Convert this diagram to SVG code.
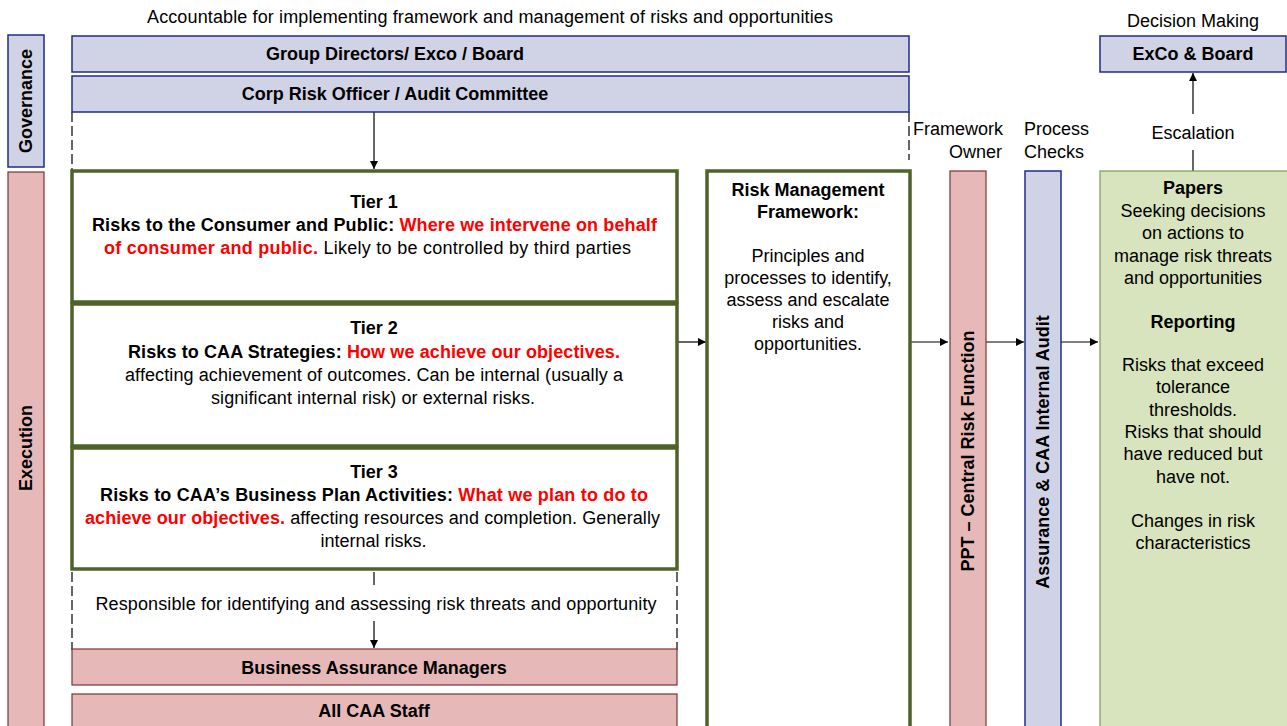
<svg xmlns="http://www.w3.org/2000/svg" width="1287" height="726" viewBox="0 0 1287 726">
<defs>
<style>
text{font-family:"Liberation Sans",Arial,sans-serif;font-size:18px;fill:#000}
.b{font-weight:bold}
.r{fill:#ff0000;font-weight:bold}
.c{text-anchor:middle}
.lav{fill:#d0d2e5;stroke:#1f2d8a;stroke-width:1.5}
.pink{fill:#e6b8b7;stroke:#7f3333;stroke-width:1.2}
.tier{fill:#fff;stroke:#4f6228;stroke-width:3.5}
.pap{fill:#d7e4bd;stroke:#7e9a52;stroke-width:1.2}
.dash{stroke:#000;stroke-width:1.2;stroke-dasharray:10,4;fill:none}
.ln{stroke:#000;stroke-width:1.2;fill:none}
</style>
<marker id="ah" viewBox="0 0 10 10" refX="10" refY="5" markerWidth="8" markerHeight="8" markerUnits="userSpaceOnUse" orient="auto">
<path d="M0,0 L10,5 L0,10 Z" fill="#000"/>
</marker>
</defs>
<rect width="1287" height="726" fill="#fff"/>

<text class="c" x="490" y="23" textLength="686" lengthAdjust="spacing">Accountable for implementing framework and management of risks and opportunities</text>
<text class="c" x="1193" y="27">Decision Making</text>
<text x="913" y="135">Framework</text>
<text x="1002" y="158" text-anchor="end">Owner</text>
<text x="1024" y="135">Process</text>
<text x="1024" y="158">Checks</text>

<g id="connectors">
<path class="dash" d="M72,112 V171"/>
<path class="dash" d="M909,112 V160"/>
<path class="dash" d="M72,572 V650"/>
<path class="dash" d="M677,572 V650"/>
<path class="ln" d="M374,112 V169" marker-end="url(#ah)"/>
<path class="ln" d="M374,572 V585"/>
<path class="ln" d="M374,621 V648" marker-end="url(#ah)"/>
<path class="ln" d="M677,342 H706" marker-end="url(#ah)"/>
<path class="ln" d="M910,342 H948" marker-end="url(#ah)"/>
<path class="ln" d="M986,342 H1024" marker-end="url(#ah)"/>
<path class="ln" d="M1061,342 H1098" marker-end="url(#ah)"/>
<path class="ln" d="M1193,171 V150"/>
<path class="ln" d="M1193,114 V73" marker-end="url(#ah)"/>
<text class="c" x="1193" y="139">Escalation</text>
<text class="c" x="376" y="610" textLength="561" lengthAdjust="spacing">Responsible for identifying and assessing risk threats and opportunity</text>
</g>

<g id="governance">
<rect class="lav" x="8" y="35" width="36" height="132"/>
<text class="b c" transform="translate(32,101) rotate(-90)">Governance</text>
</g>
<g id="execution">
<rect class="pink" x="8" y="172" width="36" height="560"/>
<text class="b c" transform="translate(32,448) rotate(-90)">Execution</text>
</g>

<g id="group-directors">
<rect class="lav" x="72" y="36" width="837" height="36"/>
<text class="b c" x="395" y="60">Group Directors/ Exco / Board</text>
</g>
<g id="corp-risk">
<rect class="lav" x="72" y="76" width="837" height="36"/>
<text class="b c" x="395" y="100">Corp Risk Officer / Audit Committee</text>
</g>

<g id="tier1">
<rect class="tier" x="72" y="171" width="605" height="131"/>
<text class="b c" x="374" y="208">Tier 1</text>
<text class="c" x="374.5" y="231" textLength="565" lengthAdjust="spacing"><tspan class="b">Risks to the Consumer and Public: </tspan><tspan class="r">Where we intervene on behalf</tspan></text>
<text class="c" x="367.5" y="254" textLength="527" lengthAdjust="spacing"><tspan class="r">of consumer and public.</tspan> Likely to be controlled by third parties</text>
</g>
<g id="tier2">
<rect class="tier" x="72" y="304" width="605" height="142"/>
<text class="b c" x="374" y="334">Tier 2</text>
<text class="c" x="374" y="358" textLength="492" lengthAdjust="spacing"><tspan class="b">Risks to CAA Strategies: </tspan><tspan class="r">How we achieve our objectives.</tspan></text>
<text class="c" x="374" y="381" textLength="498" lengthAdjust="spacing">affecting achievement of outcomes. Can be internal (usually a</text>
<text class="c" x="373" y="404" textLength="324" lengthAdjust="spacing">significant internal risk) or external risks.</text>
</g>
<g id="tier3">
<rect class="tier" x="72" y="448" width="605" height="121"/>
<text class="b c" x="374" y="478">Tier 3</text>
<text class="c" x="374" y="501" textLength="548" lengthAdjust="spacing"><tspan class="b">Risks to CAA’s Business Plan Activities: </tspan><tspan class="r">What we plan to do to</tspan></text>
<text class="c" x="372.5" y="524" textLength="575" lengthAdjust="spacing"><tspan class="r">achieve our objectives.</tspan> affecting resources and completion. Generally</text>
<text class="c" x="373.5" y="547">internal risks.</text>
</g>

<g id="business-assurance">
<rect class="pink" x="72" y="649" width="605" height="36"/>
<text class="b c" x="374" y="674">Business Assurance Managers</text>
</g>
<g id="all-staff">
<rect class="pink" x="72" y="694" width="605" height="40"/>
<text class="b c" x="374" y="717">All CAA Staff</text>
</g>

<g id="rmf">
<rect class="tier" x="707" y="171" width="203" height="565"/>
<text class="b c" x="808" y="196">Risk Management</text>
<text class="b c" x="808" y="218">Framework:</text>
<text class="c" x="808" y="262">Principles and</text>
<text class="c" x="808" y="284">processes to identify,</text>
<text class="c" x="808" y="306">assess and escalate</text>
<text class="c" x="808" y="328">risks and</text>
<text class="c" x="808" y="350">opportunities.</text>
</g>

<g id="ppt">
<rect class="pink" x="950" y="171" width="36" height="560"/>
<text class="b c" transform="translate(974,451) rotate(-90)">PPT – Central Risk Function</text>
</g>
<g id="assurance">
<rect class="lav" x="1025" y="171" width="36" height="560"/>
<text class="b c" transform="translate(1049,452) rotate(-90)">Assurance &amp; CAA Internal Audit</text>
</g>

<g id="exco">
<rect class="lav" x="1100" y="36" width="186" height="36"/>
<text class="b c" x="1193" y="60">ExCo &amp; Board</text>
</g>

<g id="papers">
<rect class="pap" x="1100" y="171" width="190" height="560"/>
<text class="b c" x="1193" y="194">Papers</text>
<text class="c" x="1193" y="217">Seeking decisions</text>
<text class="c" x="1193" y="239">on actions to</text>
<text class="c" x="1193" y="262">manage risk threats</text>
<text class="c" x="1193" y="284">and opportunities</text>
<text class="b c" x="1193" y="328">Reporting</text>
<text class="c" x="1193" y="371">Risks that exceed</text>
<text class="c" x="1193" y="393">tolerance</text>
<text class="c" x="1193" y="416">thresholds.</text>
<text class="c" x="1193" y="438">Risks that should</text>
<text class="c" x="1193" y="460">have reduced but</text>
<text class="c" x="1193" y="483">have not.</text>
<text class="c" x="1193" y="527">Changes in risk</text>
<text class="c" x="1193" y="549">characteristics</text>
</g>
</svg>
